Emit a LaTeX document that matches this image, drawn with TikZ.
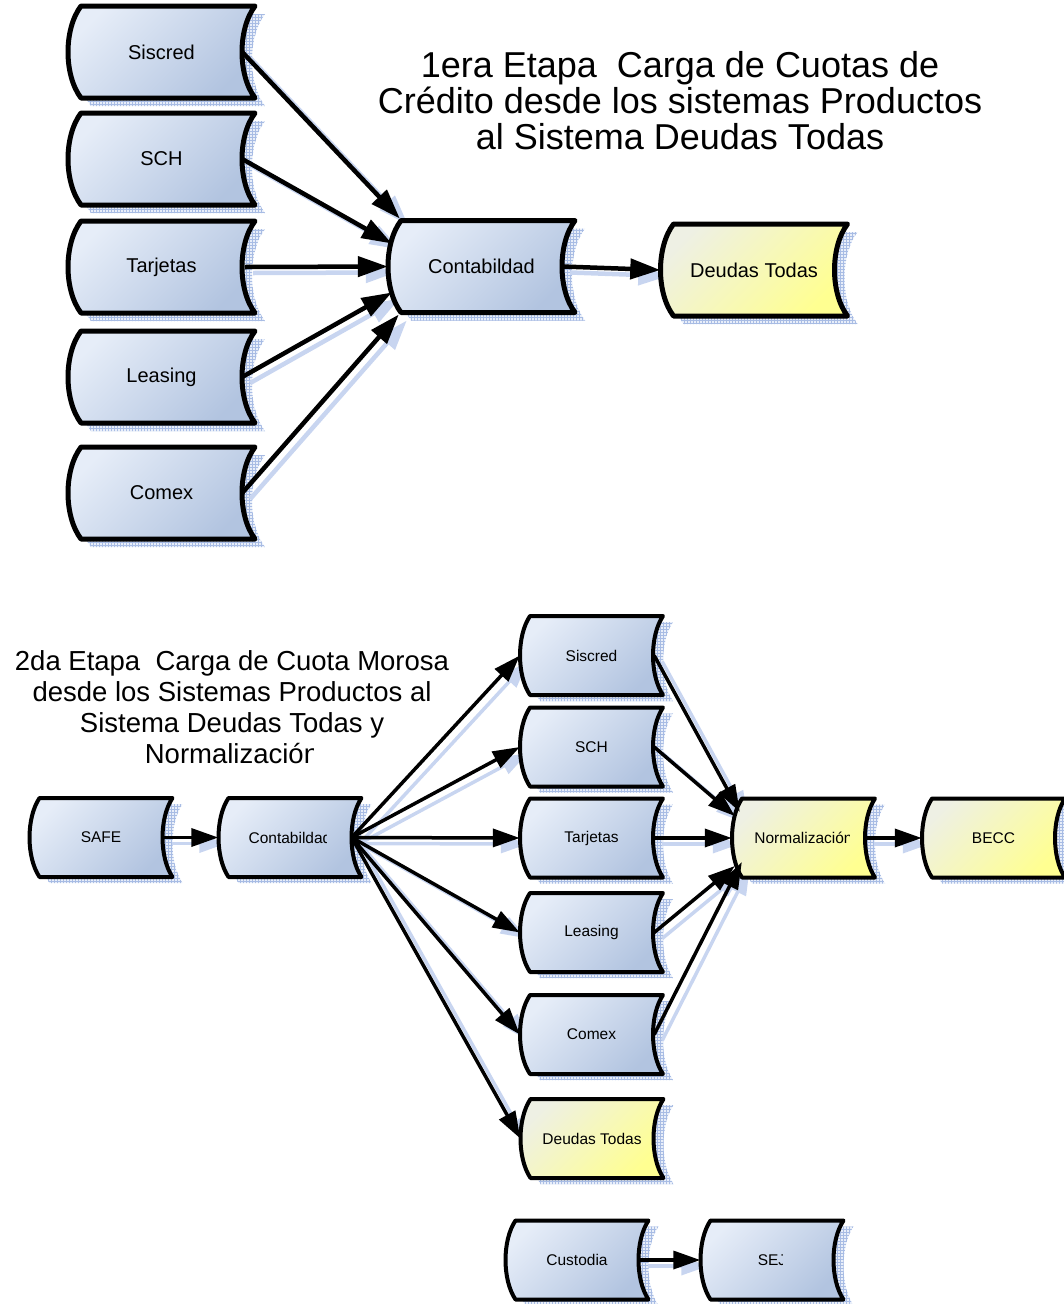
\documentclass[tikz,border=0pt]{standalone}
\usepackage{fontspec}
\setmainfont{Liberation Sans}
\usetikzlibrary{arrows.meta,patterns}

\definecolor{bluelight}{RGB}{230,237,248}
\definecolor{bluedark}{RGB}{178,196,224}
\definecolor{yellight}{RGB}{238,240,228}
\definecolor{yeldark}{RGB}{255,255,145}
\definecolor{shadowbase}{RGB}{232,238,249}
\definecolor{shadowgrid}{RGB}{168,188,228}
\definecolor{arrowshadow}{RGB}{200,213,240}

% "stored data" outline: left edge bulges out, right edge bulges in
% #1 cx, #2 cy, #3 half width, #4 half height, #5 arc depth
\newcommand\dbpath[5]{({#1-#3+#5},{#2-#4}) -- ({#1+#3},{#2-#4})
  .. controls ({#1+#3-1.333*#5},{#2-0.5*#4}) and ({#1+#3-1.333*#5},{#2+0.5*#4}) .. ({#1+#3},{#2+#4})
  -- ({#1-#3+#5},{#2+#4})
  .. controls ({#1-#3-0.333*#5},{#2+0.5*#4}) and ({#1-#3-0.333*#5},{#2-0.5*#4}) .. ({#1-#3+#5},{#2-#4}) -- cycle}

\tikzset{
  big/.code={\def\hw{93.5}\def\hh{46}\def\dd{13}\def\olw{5pt}\def\fsz{20}\def\sx{10}\def\sy{8}},
  small/.code={\def\hw{71.5}\def\hh{39.5}\def\dd{10}\def\olw{4pt}\def\fsz{15.5}\def\sx{10}\def\sy{6}},
  bluefill/.code={\def\lc{bluelight}\def\dc{bluedark}},
  yelfill/.code={\def\lc{yellight}\def\dc{yeldark}},
  conn1/.style={line width=4.5pt, -{Triangle[length=30pt,width=20pt]}},
  conn2/.style={line width=3.5pt, -{Triangle[length=27pt,width=18pt]}},
}

% name / cx / cy / size / colour / label / x where the label is cut
\def\boxlist{s1/161.5/52/big/bluefill/Siscred/9999,
h1/161.5/159/big/bluefill/SCH/9999,
t1/161.5/267/big/bluefill/Tarjetas/9999,
l1/161.5/377/big/bluefill/Leasing/9999,
x1/161.5/493/big/bluefill/Comex/9999,
c1/481.5/266.5/big/bluefill/Contabildad/9999,
d1/754/270/big/yelfill/Deudas Todas/818.5,
sf/101/837.5/small/bluefill/SAFE/9999,
c2/290/837.5/small/bluefill/Contabildad/326,
s2/591.5/655.5/small/bluefill/Siscred/9999,
h2/591.5/747/small/bluefill/SCH/9999,
t2/591.5/838/small/bluefill/Tarjetas/9999,
l2/591.5/932.5/small/bluefill/Leasing/9999,
x2/591.5/1034.5/small/bluefill/Comex/9999,
d2/592/1138.5/small/yelfill/Deudas Todas/641.5,
n2/803.5/838/small/yelfill/Normalización/849,
b2/993.5/838/small/yelfill/BECC/9999,
cu/577/1260/small/bluefill/Custodia/9999,
se/772/1260/small/bluefill/SEJ/782}

\newcommand\connections{%
  % first stage
  \draw[conn1] ([xshift=-13]s1.east) -- ([shift={(12,-48)}]c1.west);
  \draw[conn1] ([xshift=-13]h1.east) -- ([shift={(4,-23)}]c1.west);
  \draw[conn1] ([xshift=-10]t1.east) -- (c1.west);
  \draw[conn1] ([xshift=-13]l1.east) -- ([shift={(4,26)}]c1.west);
  \draw[conn1] ([xshift=-13]x1.east) -- ([shift={(11,48)}]c1.west);
  \draw[conn1] ([xshift=-13]c1.east) -- (d1.west);
  % second stage
  \draw[conn2] ([xshift=-9]sf.east) -- (c2.west);
  \foreach \t in {s2,h2,t2,l2,x2,d2}
    \draw[conn2] ([xshift=-10]c2.east) -- (\t.west);
  \draw[conn2] ([xshift=-9]s2.east) -- ([shift={(8,-26)}]n2.west);
  \draw[conn2] ([xshift=-9]h2.east) -- ([shift={(3,-22)}]n2.west);
  \draw[conn2] ([xshift=-9]t2.east) -- (n2.west);
  \draw[conn2] ([xshift=-9]l2.east) -- ([shift={(3,28)}]n2.west);
  \draw[conn2] ([xshift=-9]x2.east) -- ([shift={(10,24)}]n2.west);
  \draw[conn2] ([xshift=-9]n2.east) -- (b2.west);
  \draw[conn2] ([xshift=-9]cu.east) -- (se.west);
}

\begin{document}
\begin{tikzpicture}[x=1pt,y=-1pt]
\clip (0,0) rectangle (1064,1304);

% drop shadows and anchor nodes
\foreach \n/\cx/\cy/\sz/\col/\txt/\cut in \boxlist {
  \expandafter\tikzset\expandafter{\sz}
  \fill[shadowbase] \dbpath{\cx+\sx}{\cy+\sy}{\hw}{\hh}{\dd};
  \fill[pattern=grid, pattern color=shadowgrid] \dbpath{\cx+\sx}{\cy+\sy}{\hw}{\hh}{\dd};
  \node[minimum width=2*\hw, minimum height=2*\hh, inner sep=0pt] (\n) at (\cx,\cy) {};
}

% shadows of the connectors
\begin{scope}[transform canvas={shift={(8,6)}},
  conn1/.append style={draw=arrowshadow}, conn2/.append style={draw=arrowshadow}]
  \connections
\end{scope}

% the boxes themselves
\foreach \n/\cx/\cy/\sz/\col/\txt/\cut in \boxlist {
  \expandafter\tikzset\expandafter{\sz}
  \expandafter\tikzset\expandafter{\col}
  \draw[line width=\olw, line join=round, top color=\lc, bottom color=\dc, shading angle=45]
    \dbpath{\cx}{\cy}{\hw}{\hh}{\dd};
  \begin{scope}
    \clip ({\cx-\hw},{\cy-\hh}) rectangle ({\cut},{\cy+\hh});
    \node[font=\fontsize{\fsz}{\fsz}\selectfont, inner sep=0pt] at (\cx,\cy) {\txt};
  \end{scope}
}

\connections

% headings
\node[font=\fontsize{36}{36}\selectfont, align=center] (title1) at (680,101)
  {1era Etapa~ Carga de Cuotas de\\Crédito desde los sistemas Productos\\al Sistema Deudas Todas};
\begin{scope}
  \clip (0,630) rectangle (470,738) (0,738) rectangle (313,780);
  \node[font=\fontsize{27.5}{31}\selectfont, align=center] (title2) at (232,707)
    {2da Etapa~ Carga de Cuota Morosa\\desde los Sistemas Productos al\\Sistema Deudas Todas y\\Normalización};
\end{scope}
\end{tikzpicture}
\end{document}
